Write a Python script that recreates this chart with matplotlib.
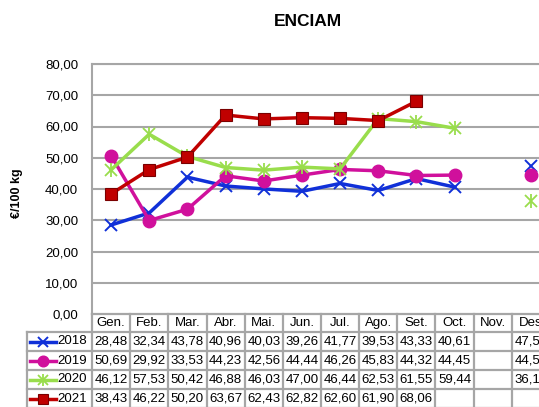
import numpy as np
import matplotlib
matplotlib.use("Agg")
import matplotlib.pyplot as plt
import matplotlib.transforms as mtransforms

plt.rcParams['font.family'] = ['Liberation Sans', 'DejaVu Sans']

months = ["Gen.", "Feb.", "Mar.", "Abr.", "Mai.", "Jun.", "Jul.", "Ago.", "Set.", "Oct.", "Nov.", "Des"]
years = ["2018", "2019", "2020", "2021"]
v2018 = [28.48, 32.34, 43.78, 40.96, 40.03, 39.26, 41.77, 39.53, 43.33, 40.61, None, 47.50]
v2019 = [50.69, 29.92, 33.53, 44.23, 42.56, 44.44, 46.26, 45.83, 44.32, 44.45, None, 44.58]
v2020 = [46.12, 57.53, 50.42, 46.88, 46.03, 47.00, 46.44, 62.53, 61.55, 59.44, None, 36.13]
v2021 = [38.43, 46.22, 50.20, 63.67, 62.43, 62.82, 62.60, 61.90, 68.06, None, None, None]
series = [v2018, v2019, v2020, v2021]
colors = ["#1030d8", "#d0109c", "#99dd4c", "#c00000"]
yticks = [0, 10, 20, 30, 40, 50, 60, 70, 80]

W, H = 539, 407
fig = plt.figure(figsize=(W / 100, H / 100), dpi=100)
L, R, T, B = 92, 550, 64, 314
ax = fig.add_axes([L / W, (H - B) / H, (R - L) / W, (B - T) / H])

x = np.arange(len(months))
grid_c = "#a6a6a6"

def arr(v):
    return np.array([np.nan if a is None else a for a in v], dtype=float)

def style(i):
    if i == 0:
        return dict(marker='x', markersize=9, markeredgewidth=1.4, color=colors[0],
                    markerfacecolor=colors[0], markeredgecolor=colors[0])
    if i == 1:
        return dict(marker='o', markersize=9, color=colors[1],
                    markerfacecolor=colors[1], markeredgecolor=colors[1])
    if i == 2:
        return dict(marker='x', markersize=9, markeredgewidth=1.3, color=colors[2],
                    markerfacecolor=colors[2], markeredgecolor=colors[2])
    return dict(marker='s', markersize=8, color=colors[3],
                markerfacecolor=colors[3], markeredgecolor="#7a0000", markeredgewidth=0.8)

for i, v in enumerate(series):
    y = arr(v)
    ax.plot(x, y, lw=2.5, zorder=3 + i, **style(i))
    if i == 2:
        ax.plot(x, y, lw=0, marker='|', markersize=10, markeredgewidth=1.3,
                color=colors[2], zorder=3 + i)

ax.set_xlim(-0.5, 11.5)
ax.set_ylim(0, 80)
ax.set_yticks(yticks)
ax.set_yticklabels([f"{t:.2f}".replace('.', ',') for t in yticks], fontsize=9.5)
ax.tick_params(axis='y', length=0, pad=10)
ax.set_xticks([])
for yt in yticks[1:]:
    ax.axhline(yt, color=grid_c, lw=1.5, zorder=1)
for s in ['right', 'bottom']:
    ax.spines[s].set_visible(False)
ax.spines['left'].set_color(grid_c)
ax.spines['left'].set_linewidth(1.5)
ax.spines['top'].set_color(grid_c)
ax.spines['top'].set_linewidth(1.5)

fig.text(308 / W, 1 - 21 / H, "ENCIAM", ha='center', va='center', fontsize=12.5, fontweight='bold')
fig.text(17 / W, 1 - 193 / H, "€/100 kg", ha='center', va='center', rotation=90,
         fontsize=9, fontweight='bold')

# data table below the plot
trans = mtransforms.blended_transform_factory(ax.transData, ax.transAxes)
ppx = 12 / (R - L)
ppy = 1 / (B - T)

def px2x(px):
    return -0.5 + (px - L) * ppx

hdr = 18 * ppy
rowh = 19 * ppy
label_left = px2x(27)
n_rows = len(years)
y_bottom = -(hdr + rowh * n_rows)

def line(xs, ys):
    ax.plot(xs, ys, transform=trans, color=grid_c, lw=1.6, clip_on=False, zorder=2)

line([-0.5, -0.5], [0, y_bottom])
line([label_left, label_left], [-hdr, y_bottom])
for j in range(len(months)):
    line([j + 0.5, j + 0.5], [0, y_bottom])
line([-0.5, 11.5], [0, 0])
for r in range(n_rows + 1):
    yy = -hdr - r * rowh
    line([label_left, 11.5], [yy, yy])

for j, m in enumerate(months):
    ax.text(j, -hdr / 2, m, transform=trans, ha='center', va='center', fontsize=9.5, clip_on=False)

for i, (yr, v) in enumerate(zip(years, series)):
    yc = -hdr - (i + 0.5) * rowh
    st = style(i)
    ms = st.pop('markersize')
    ax.plot([px2x(30), px2x(56)], [yc, yc], transform=trans, lw=2.5, clip_on=False,
            markevery=[], **{k: val for k, val in st.items() if k != 'marker'})
    ax.plot([px2x(43)], [yc], transform=trans, lw=0, clip_on=False,
            marker=st['marker'], markersize=ms * 0.85,
            **{k: val for k, val in st.items() if k not in ('marker', 'color')},
            color=colors[i])
    if i == 2:
        ax.plot([px2x(43)], [yc], transform=trans, lw=0, marker='|', markersize=8.5,
                markeredgewidth=1.3, color=colors[2], clip_on=False)
    ax.text(px2x(57), yc, yr, transform=trans, ha='left', va='center', fontsize=9.5, clip_on=False)
    for j, val in enumerate(v):
        if val is None:
            continue
        ax.text(j, yc, f"{val:.2f}".replace('.', ','), transform=trans, ha='center',
                va='center', fontsize=9.5, clip_on=False)

fig.savefig("out.png", dpi=100)
